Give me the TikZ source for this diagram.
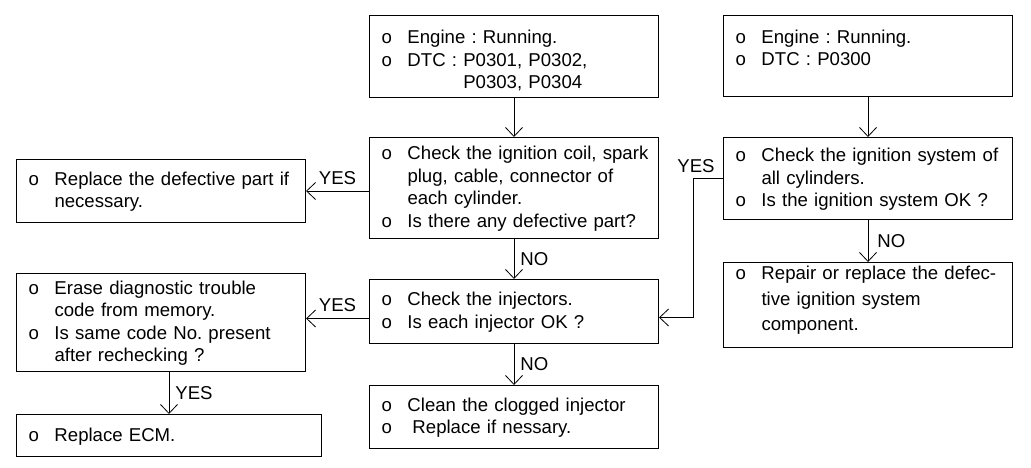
\documentclass[tikz,border=0pt]{standalone}
\usepackage{fontspec}
\setmainfont{Liberation Sans}
\usetikzlibrary{arrows.meta}
\frenchspacing
\newcommand{\bstrut}{\rule[-4.2pt]{0pt}{19.7pt}}
\newcommand{\tstrut}{\rule{0pt}{23.5pt}}
\newcommand{\itm}[1]{\bstrut\makebox[26pt][l]{o}\mbox{#1}}
\newcommand{\cnt}[1]{\bstrut\hspace*{26pt}\mbox{#1}}
\tikzset{
  box/.style={draw, line width=1pt, anchor=north west, inner xsep=12pt,
    inner ysep=0pt, text width=265pt, align=left},
  arr/.style={-{Straight Barb[length=9pt,width=17pt]}, line width=0.8pt},
  lbl/.style={inner sep=6pt}
}
\begin{document}
\begin{tikzpicture}[x=1pt, y=-1pt, font=\fontsize{18.6}{22.5}\selectfont]
\useasboundingbox (0,0) rectangle (1031,467);
% middle column
\node[box, minimum height=82pt] (dtc) at (369,15)
  {\tstrut\itm{Engine : Running.}\\ \itm{DTC : P0301, P0302,}\\ \cnt{\phantom{DTC : }P0303, P0304}};
\node[box, minimum height=101pt] (coil) at (369,137)
  {\itm{Check the ignition coil, spark}\\ \cnt{plug, cable, connector of}\\
   \cnt{each cylinder.}\\ \itm{Is there any defective part?}};
\node[box, minimum height=64pt] (inj) at (369,279)
  {\itm{Check the injectors.}\\ \itm{Is each injector OK ?}};
\node[box, minimum height=63pt] (clean) at (369,385)
  {\itm{Clean the clogged injector}\\ \itm{\hspace*{5pt}Replace if nessary.}};
% left column
\node[box, minimum height=63pt] (part) at (16,159)
  {\itm{Replace the defective part if}\\ \cnt{necessary.}};
\node[box, minimum height=98pt] (erase) at (16,273)
  {\itm{Erase diagnostic trouble}\\ \cnt{code from memory.}\\
   \itm{Is same code No. present}\\ \cnt{after rechecking ?}};
\node[box, minimum height=42pt, text width=281pt] (ecm) at (16,414)
  {\itm{Replace ECM.}};
% right column
\node[box, minimum height=81pt] (dtcall) at (723,15)
  {\tstrut\itm{Engine : Running.}\\ \itm{DTC : P0300}\\ \bstrut};
\node[box, minimum height=82pt] (sys) at (723,137)
  {\itm{Check the ignition system of}\\ \cnt{all cylinders.}\\ \itm{Is the ignition system OK ?}};
\node[box, minimum height=85pt] (repair) at (723,262)
  {\itm{Repair or replace the defec-}\\[3pt] \cnt{tive ignition system}\\[3pt]
   \cnt{component.}\rule[-15pt]{0pt}{0pt}};
% connectors
\coordinate (injw) at ([yshift=-7pt]inj.west);
\coordinate (inje) at ([yshift=-6pt]inj.east);
\draw[arr] (dtc.south) -- (coil.north);
\draw[arr] (dtcall.south) -- (sys.north);
\draw[arr] (coil.west |- part.east) -- (part.east) node[midway, above, lbl] {YES};
\draw[arr] (coil.south) -- (inj.north) node[midway, right, lbl] {NO};
\draw[arr] (injw) -- (injw -| erase.east) node[midway, above, lbl] {YES};
\draw[arr] (inj.south) -- (clean.north) node[midway, right, lbl] {NO};
\draw[arr] (erase.south -| ecm.north) -- (ecm.north) node[midway, right, lbl] {YES};
\draw[arr] (sys.south) -- (repair.north) node[midway, right, lbl, xshift=3pt] {NO};
\draw[arr] (sys.west) -- ++(-30,0) coordinate (bend) |- (inje);
\node[above, lbl, xshift=3pt] at (bend) {YES};
\end{tikzpicture}
\end{document}
